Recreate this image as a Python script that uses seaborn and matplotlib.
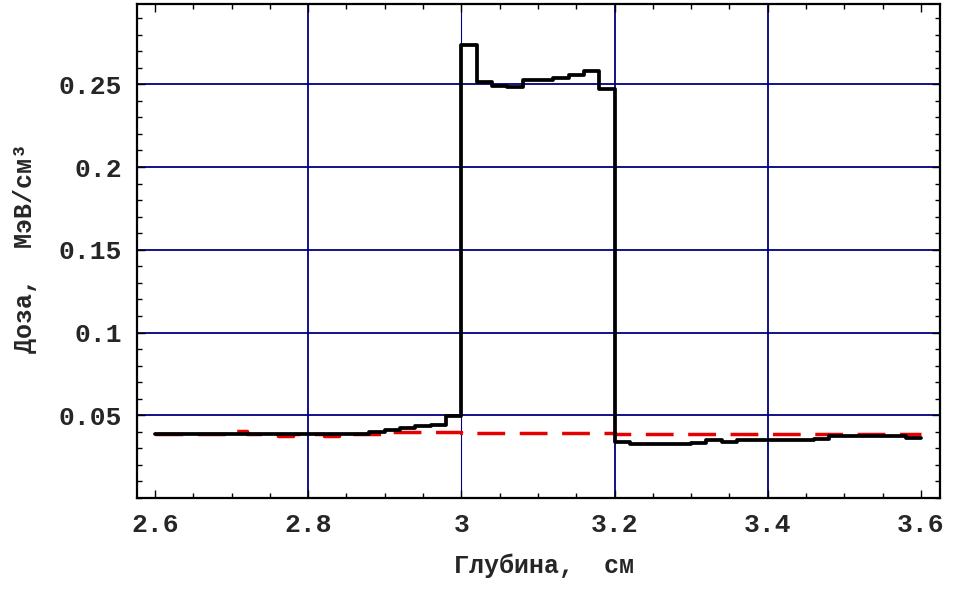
import matplotlib
matplotlib.use("Agg")
import matplotlib.pyplot as plt
from matplotlib.ticker import MultipleLocator
import numpy as np
import pandas as pd
import seaborn as sns

# Bin edges (cm) — step curves are defined on 0.02 cm bins
depth = [2.60, 2.62, 2.64, 2.66, 2.68, 2.70, 2.72, 2.74, 2.76, 2.78,
         2.80, 2.82, 2.84, 2.86, 2.88, 2.90, 2.92, 2.94, 2.96, 2.98,
         3.00, 3.02, 3.04, 3.06, 3.08, 3.10, 3.12, 3.14, 3.16, 3.18,
         3.20, 3.22, 3.24, 3.26, 3.28, 3.30, 3.32, 3.34, 3.36, 3.38,
         3.40, 3.42, 3.44, 3.46, 3.48, 3.50, 3.52, 3.54, 3.56, 3.58,
         3.60]

# Dose with inserted layer (black), one value per bin
dose_layer = [0.0388, 0.0388, 0.0386, 0.0388, 0.0388, 0.0388, 0.0388, 0.0388, 0.0387, 0.0388,
              0.0387, 0.0388, 0.0388, 0.0389, 0.0400, 0.0414, 0.0425, 0.0433, 0.0444, 0.0494,
              0.2736, 0.2514, 0.2490, 0.2484, 0.2524, 0.2526, 0.2538, 0.2555, 0.2579, 0.2470,
              0.0336, 0.0326, 0.0326, 0.0326, 0.0327, 0.0334, 0.0350, 0.0340, 0.0352, 0.0352,
              0.0353, 0.0353, 0.0353, 0.0354, 0.0373, 0.0374, 0.0374, 0.0375, 0.0374, 0.0363]

# Reference dose without layer (red dashed)
dose_ref = [0.0388, 0.0388, 0.0388, 0.0388, 0.0388, 0.0403, 0.0388, 0.0388, 0.0372, 0.0388,
            0.0388, 0.0372, 0.0388, 0.0388, 0.0388, 0.0398, 0.0398, 0.0398, 0.0398, 0.0398,
            0.0395, 0.0395, 0.0395, 0.0395, 0.0395, 0.0395, 0.0395, 0.0395, 0.0395, 0.0395,
            0.0388, 0.0388, 0.0388, 0.0388, 0.0388, 0.0388, 0.0388, 0.0388, 0.0388, 0.0388,
            0.0388, 0.0388, 0.0388, 0.0388, 0.0388, 0.0388, 0.0388, 0.0388, 0.0388, 0.0388]

x_ticks = [2.6, 2.8, 3.0, 3.2, 3.4, 3.6]
x_tick_labels = ["2.6", "2.8", "3", "3.2", "3.4", "3.6"]
y_ticks = [0.05, 0.10, 0.15, 0.20, 0.25]
y_tick_labels = ["0.05", "0.1", "0.15", "0.2", "0.25"]

x_label = "Глубина,  см"
y_label = "Доза,  МэВ/см³"

df = pd.DataFrame({
    "depth": depth,
    "layer": dose_layer + [dose_layer[-1]],
    "ref": dose_ref + [dose_ref[-1]],
})

sns.set_theme(style="white")
plt.rcParams["font.family"] = ["Liberation Mono", "DejaVu Sans Mono"]

fig = plt.figure(figsize=(9.55, 5.9), dpi=100)
ax = fig.add_axes([0.1435, 0.1559, 0.8408, 0.8373])

navy = "#000080"
ax.set_axisbelow(True)

sns.lineplot(data=df, x="depth", y="ref", ax=ax, color="#e60000", lw=2.5,
             drawstyle="steps-post", estimator=None, sort=False,
             linestyle=(0, (8.0, 4.2)), zorder=3)
sns.lineplot(data=df, x="depth", y="layer", ax=ax, color="black", lw=2.7,
             drawstyle="steps-post", estimator=None, sort=False, zorder=4)

ax.set_xlim(2.5765, 3.625)
ax.set_ylim(0.0, 0.2985)

ax.set_xticks(x_ticks)
ax.set_xticklabels(x_tick_labels)
ax.set_yticks(y_ticks)
ax.set_yticklabels(y_tick_labels)
ax.xaxis.set_minor_locator(MultipleLocator(0.05))
ax.yaxis.set_minor_locator(MultipleLocator(0.01))

ax.tick_params(which="both", direction="in", top=True, right=True,
               bottom=True, left=True, color="black", width=1.0)
ax.tick_params(which="major", length=6)
ax.tick_params(which="minor", length=3.5)
ax.tick_params(axis="both", which="major", labelsize=19, pad=11)
for lab in ax.get_xticklabels() + ax.get_yticklabels():
    lab.set_fontweight("bold")

# grid lines
ax.grid(True, which="major", color=navy, lw=1.3)
xg = ax.xaxis.get_gridlines()
xg[0].set_visible(False)
xg[-1].set_visible(False)
xg[2].set_linewidth(0.8)

for s in ax.spines.values():
    s.set_color("black")
    s.set_linewidth(1.6)

ax.set_xlabel(x_label, fontsize=18, fontweight="bold", va="center")
ax.set_ylabel(y_label, fontsize=18, fontweight="bold", va="center")
ax.xaxis.set_label_coords(0.507, -0.137)
ax.yaxis.set_label_coords(-0.1395, 0.506)

fig.savefig("out.png", dpi=100)
